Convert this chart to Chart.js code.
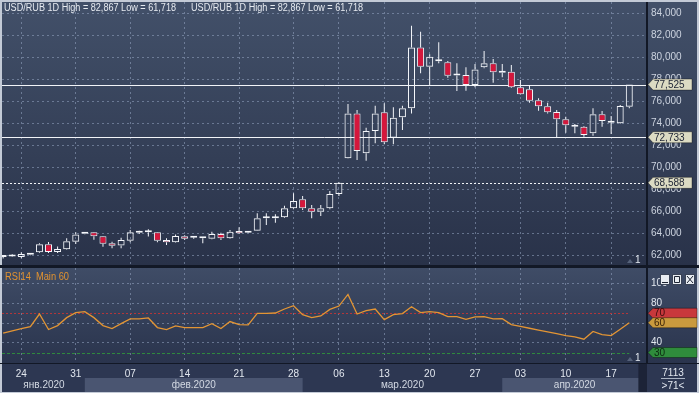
<!DOCTYPE html>
<html>
<head>
<meta charset="utf-8">
<script src="https://cdn.jsdelivr.net/npm/chart.js@4.4.1/dist/chart.umd.min.js"></script>
<style>
  html, body { margin: 0; padding: 0; }
  body { width: 699px; height: 393px; position: relative; overflow: hidden; background: #c3cad6; }
  .box { position: absolute; }
  #p1 { left: 2px; top: 2px; width: 695px; height: 263px; background: linear-gradient(#425069, #293249); }
  #s1 { left: 0; top: 265px; width: 699px; height: 3px; background: #121826; }
  #p2 { left: 2px; top: 268px; width: 695px; height: 95px; background: linear-gradient(#3f4c66, #2a344d); }
  #s2 { left: 0; top: 363px; width: 699px; height: 1px; background: #121826; }
  #p3 { left: 2px; top: 364px; width: 695px; height: 28px; background: #2d3752; }
  canvas { position: absolute; left: 0; }
</style>
</head>
<body>
<div class="box" id="p1"></div>
<div class="box" id="s1"></div>
<div class="box" id="p2"></div>
<div class="box" id="s2"></div>
<div class="box" id="p3"></div>
<canvas id="priceChart" width="699" height="266" style="top:0"></canvas>
<canvas id="rsiChart" width="699" height="127" style="top:266px"></canvas>
<script>
// Daily candles USD/RUB, 22 Jan - 21 Apr 2020
const dates = [
  "2020-01-22", "2020-01-23", "2020-01-24", "2020-01-26", "2020-01-27", "2020-01-28", "2020-01-29", "2020-01-30", "2020-01-31", "2020-02-02",
  "2020-02-03", "2020-02-04", "2020-02-05", "2020-02-06", "2020-02-07", "2020-02-09", "2020-02-10", "2020-02-11", "2020-02-12", "2020-02-13",
  "2020-02-14", "2020-02-16", "2020-02-17", "2020-02-18", "2020-02-19", "2020-02-20", "2020-02-21", "2020-02-23", "2020-02-24", "2020-02-25",
  "2020-02-26", "2020-02-27", "2020-02-28", "2020-03-02", "2020-03-03", "2020-03-04", "2020-03-05", "2020-03-06", "2020-03-09", "2020-03-10",
  "2020-03-11", "2020-03-12", "2020-03-13", "2020-03-16", "2020-03-17", "2020-03-18", "2020-03-19", "2020-03-20", "2020-03-23", "2020-03-24",
  "2020-03-25", "2020-03-26", "2020-03-27", "2020-03-30", "2020-03-31", "2020-04-01", "2020-04-02", "2020-04-03", "2020-04-06", "2020-04-07",
  "2020-04-08", "2020-04-09", "2020-04-10", "2020-04-13", "2020-04-14", "2020-04-15", "2020-04-16", "2020-04-17", "2020-04-20", "2020-04-21",
];
const opens = [
  61.85, 61.9, 61.85, 62.05, 62.27, 63.0, 62.3, 62.55, 63.24, 63.95,
  64.1, 63.73, 63.09, 62.9, 63.33, 64.05, 64.1, 64.09, 63.39, 63.18,
  63.73, 63.6, 63.55, 63.5, 63.94, 63.55, 64.21, 64.05, 64.24, 65.36,
  65.36, 65.45, 66.27, 67.09, 66.27, 65.96, 66.27, 67.57, 70.82, 74.9,
  71.27, 73.3, 75.0, 72.69, 74.55, 75.36, 80.9, 79.15, 79.65, 79.55,
  78.35, 78.39, 77.48, 79.09, 79.45, 78.7, 78.69, 77.27, 77.09, 76.09,
  75.55, 75.03, 74.36, 73.7, 73.69, 73.09, 74.82, 74.05, 74.0, 75.51,
];
const highs = [
  62.0, 62.1, 62.27, 62.2, 63.1, 63.2, 62.8, 63.55, 64.1, 64.0,
  64.12, 63.75, 63.24, 63.6, 64.3, 64.24, 64.36, 64.12, 63.55, 63.9,
  63.82, 63.7, 63.57, 64.15, 64.05, 64.3, 64.55, 64.1, 65.82, 65.82,
  65.73, 66.5, 67.64, 67.39, 66.57, 66.57, 67.85, 68.66, 75.75, 75.2,
  73.6, 75.6, 75.82, 75.45, 75.6, 82.867, 82.33, 80.27, 81.36, 79.66,
  79.45, 79.09, 79.39, 80.57, 79.85, 79.39, 79.3, 77.94, 77.48, 76.27,
  75.87, 75.2, 74.6, 73.94, 73.75, 75.36, 75.12, 74.66, 75.66, 77.525,
];
const lows = [
  61.718, 61.85, 61.73, 62.0, 62.2, 62.2, 62.2, 62.5, 63.03, 63.92,
  63.42, 62.78, 62.64, 62.64, 63.18, 63.94, 63.7, 63.18, 62.94, 63.15,
  63.39, 63.5, 63.09, 63.45, 63.4, 63.5, 63.94, 64.03, 64.2, 64.75,
  64.96, 65.4, 66.18, 66.12, 65.36, 65.57, 66.18, 67.39, 70.8, 70.66,
  70.6, 72.18, 72.09, 72.09, 73.39, 74.9, 78.55, 77.48, 79.45, 78.15,
  76.94, 76.97, 77.27, 79.0, 77.69, 78.18, 77.2, 76.6, 75.87, 75.15,
  74.9, 72.733, 73.15, 73.09, 72.78, 72.87, 73.69, 73.03, 73.95, 75.36,
];
const closes = [
  61.95, 62.0, 62.12, 62.15, 63.0, 62.3, 62.57, 63.27, 63.9, 64.0,
  63.73, 63.05, 62.87, 63.4, 64.09, 64.1, 64.12, 63.33, 63.18, 63.75,
  63.51, 63.62, 63.57, 63.94, 63.55, 64.15, 64.0, 64.08, 65.36, 65.4,
  65.45, 66.27, 66.94, 66.27, 65.96, 66.27, 67.57, 68.588, 74.9, 71.48,
  73.3, 74.9, 72.27, 74.51, 75.36, 80.9, 79.15, 80.05, 79.75, 78.33,
  78.4, 77.48, 78.9, 79.45, 78.64, 78.6, 77.27, 76.64, 76.05, 75.55,
  75.0, 74.36, 73.82, 73.68, 72.94, 74.82, 74.21, 74.12, 75.57, 77.525,
];
const rsi = [
  49.7, 52, 54.4, 56.4, 69.2, 53.4, 57.4, 65.5, 70.6, 71.6,
  65.5, 57.4, 54.4, 59.4, 64.2, 64.2, 65.2, 55.4, 53.4, 57.1,
  55.4, 55.4, 55.4, 59.4, 54.4, 61.5, 58.4, 58.1, 69.9, 69.9,
  70.2, 74.3, 77.6, 68.5, 65.5, 67.2, 73.9, 77.3, 89.1, 69.2,
  72.6, 74.3, 63.5, 68.5, 69.6, 76.6, 70.6, 71.6, 70.6, 66.6,
  66.6, 63.8, 66.2, 66.6, 64.2, 64.5, 58.4, 56.6, 54.7, 52.9,
  51.0, 49.2, 47.3, 45.9, 43.6, 51.4, 48.3, 47.3, 53.7, 60.3,
];
const priceTicks = [62, 64, 66, 68, 70, 72, 74, 76, 78, 80, 82, 84];
const rsiTicks = [40, 60, 80, 100];
const monthNames = ["янв.2020", "фев.2020", "мар.2020", "апр.2020"];
const priceLines = [77.525, 72.733];
const prevClose = 68.588;
const rsiLevels = [70, 30];

const FONT = '"Liberation Sans", Arial, sans-serif';
const GRID = "rgba(150, 165, 195, 0.55)";
const idx = dates.map((d, i) => i);
const fridays = idx.filter((i) => new Date(dates[i] + "T12:00:00").getDay() === 5);
const fmt3 = (v) => v.toFixed(3).replace(".", ",");

const bodies = idx.map((i) => ({ x: i, y: [opens[i], closes[i]] }));
const upperWicks = idx.map((i) => ({ x: i, y: [Math.max(opens[i], closes[i]), highs[i]] }));
const lowerWicks = idx.map((i) => ({ x: i, y: [lows[i], Math.min(opens[i], closes[i])] }));
const bodyFill = idx.map((i) => (closes[i] >= opens[i] ? "rgba(0,0,0,0)" : "#d5173c"));

// month start indices for the bottom band row
const monthStarts = idx.filter((i) => i === 0 || dates[i].slice(5, 7) !== dates[i - 1].slice(5, 7));

// keep tick labels from pushing the plot area inwards
function noPad(scale) {
  scale.paddingTop = 0;
  scale.paddingBottom = 0;
  scale.paddingLeft = 0;
  scale.paddingRight = 0;
}

const xOpts = {
  type: "linear",
  min: -0.127,
  max: 70.95,
  offset: false,
  afterBuildTicks: (axis) => {
    axis.ticks = fridays.map((v) => ({ value: v }));
  },
  grid: { color: GRID, drawTicks: false, offset: false },
  border: { display: false, dash: [2, 3] },
};

function drawTag(ctx, x, y, w, h, text, fill, textColor) {
  ctx.save();
  ctx.beginPath();
  ctx.moveTo(x, y);
  ctx.lineTo(x + 5, y - h / 2);
  ctx.lineTo(x + w, y - h / 2);
  ctx.lineTo(x + w, y + h / 2);
  ctx.lineTo(x + 5, y + h / 2);
  ctx.closePath();
  ctx.fillStyle = fill;
  ctx.fill();
  ctx.strokeStyle = "rgba(0, 0, 0, 0.35)";
  ctx.lineWidth = 1;
  ctx.stroke();
  ctx.fillStyle = textColor;
  ctx.font = "10px " + FONT;
  ctx.textAlign = "left";
  ctx.textBaseline = "middle";
  ctx.fillText(text, x + 6, y + 0.5);
  ctx.restore();
}

function drawCornerOne(ctx, a) {
  ctx.save();
  ctx.fillStyle = "#56627a";
  ctx.beginPath();
  ctx.moveTo(a.right - 20, a.bottom - 2);
  ctx.lineTo(a.right - 17, a.bottom - 6);
  ctx.lineTo(a.right - 14, a.bottom - 2);
  ctx.fill();
  ctx.fillStyle = "#e2e7ef";
  ctx.font = "10px " + FONT;
  ctx.textAlign = "left";
  ctx.textBaseline = "bottom";
  ctx.fillText("1", a.right - 12, a.bottom);
  ctx.restore();
}

// Price panel: level lines, axis tags, header
const priceDeco = {
  id: "priceDeco",
  beforeDatasetsDraw(chart) {
    const { ctx, chartArea: a, scales: { y } } = chart;
    ctx.save();
    ctx.strokeStyle = "#f2f4f8";
    ctx.lineWidth = 1;
    priceLines.forEach((v) => {
      const py = Math.round(y.getPixelForValue(v)) + 0.5;
      ctx.beginPath();
      ctx.moveTo(a.left, py);
      ctx.lineTo(a.right, py);
      ctx.stroke();
    });
    ctx.setLineDash([2, 2]);
    const py = Math.round(y.getPixelForValue(prevClose)) + 0.5;
    ctx.beginPath();
    ctx.moveTo(a.left, py);
    ctx.lineTo(a.right, py);
    ctx.stroke();
    ctx.restore();
  },
  afterDraw(chart) {
    const { ctx, chartArea: a, scales: { y } } = chart;
    ctx.save();
    ctx.fillStyle = "#121826";
    ctx.fillRect(a.right - 1, a.top, 2, a.bottom - a.top);
    ctx.restore();

    [...priceLines, prevClose].forEach((v) => {
      drawTag(ctx, a.right + 1, y.getPixelForValue(v), 44, 11, fmt3(v), "#dcdbc3", "#1c2233");
    });

    const header = "USD/RUB 1D High = " + fmt3(Math.max(...highs)) + " Low = " + fmt3(Math.min(...lows));
    ctx.save();
    ctx.fillStyle = "#e6eaf0";
    ctx.font = "10px " + FONT;
    ctx.textBaseline = "middle";
    ctx.fillText(header, 4, 8, 172);
    ctx.fillText(header, 191, 8, 172);
    ctx.restore();

    drawCornerOne(ctx, a);
  },
};

new Chart(document.getElementById("priceChart"), {
  type: "bar",
  data: {
    datasets: [
      {
        data: bodies,
        backgroundColor: bodyFill,
        borderColor: "#f4f6fa",
        borderWidth: 1,
        borderSkipped: false,
        barThickness: 7,
        minBarLength: 2,
        grouped: false,
        inflateAmount: 0,
      },
      {
        data: upperWicks,
        backgroundColor: "#f4f6fa",
        borderWidth: 0,
        barThickness: 1,
        grouped: false,
        inflateAmount: 0,
      },
      {
        data: lowerWicks,
        backgroundColor: "#f4f6fa",
        borderWidth: 0,
        barThickness: 1,
        grouped: false,
        inflateAmount: 0,
      },
    ],
  },
  options: {
    responsive: false,
    animation: false,
    devicePixelRatio: 1,
    layout: { padding: { left: 2, right: 2, top: 2, bottom: 1 } },
    plugins: { legend: { display: false }, tooltip: { enabled: false } },
    scales: {
      x: {
        ...xOpts,
        ticks: { display: false },
        afterFit: (scale) => {
          scale.height = 0;
          noPad(scale);
        },
      },
      y: {
        position: "right",
        min: 61.118,
        max: 85.03,
        afterBuildTicks: (axis) => {
          axis.ticks = priceTicks.map((v) => ({ value: v }));
        },
        afterFit: (scale) => {
          scale.width = 50;
          noPad(scale);
        },
        grid: { color: GRID, drawTicks: false },
        border: { display: false, dash: [2, 3] },
        ticks: {
          color: "#ccd3df",
          padding: 4,
          autoSkip: false,
          font: { family: FONT, size: 10 },
          callback: (v) => fmt3(v),
        },
      },
    },
  },
  plugins: [priceDeco],
});

// RSI panel: level lines, tags, window buttons, date rows
const rsiDeco = {
  id: "rsiDeco",
  beforeDatasetsDraw(chart) {
    const { ctx, chartArea: a, scales: { x, y } } = chart;
    const xEnd = x.getPixelForValue(dates.length - 1);
    ctx.save();
    ctx.lineWidth = 1;
    ctx.strokeStyle = "#b3363a";
    ctx.setLineDash([2, 2]);
    let py = Math.round(y.getPixelForValue(rsiLevels[0])) + 0.5;
    ctx.beginPath();
    ctx.moveTo(a.left, py);
    ctx.lineTo(xEnd, py);
    ctx.stroke();
    ctx.strokeStyle = "#2f8a3e";
    ctx.setLineDash([3, 2]);
    py = Math.round(y.getPixelForValue(rsiLevels[1])) + 0.5;
    ctx.beginPath();
    ctx.moveTo(a.left, py);
    ctx.lineTo(xEnd, py);
    ctx.stroke();
    ctx.restore();
  },
  afterDraw(chart) {
    const { ctx, chartArea: a, scales: { x, y } } = chart;
    const last = rsi[rsi.length - 1];

    ctx.save();
    ctx.fillStyle = "#121826";
    ctx.fillRect(a.right - 1, a.top, 2, a.bottom - a.top);
    ctx.restore();

    drawTag(ctx, a.right + 1, y.getPixelForValue(rsiLevels[0]), 49, 10, String(rsiLevels[0]), "#c8383c", "#3a0c0c");
    drawTag(ctx, a.right + 1, y.getPixelForValue(last), 49, 10, String(Math.round(last)), "#c99a3e", "#3a2208");
    drawTag(ctx, a.right + 1, y.getPixelForValue(rsiLevels[1]), 49, 10, String(rsiLevels[1]), "#2f8c3c", "#0c2a10");

    // legend text
    ctx.save();
    ctx.fillStyle = "#e3932f";
    ctx.font = "10px " + FONT;
    ctx.textBaseline = "middle";
    ctx.fillText("RSI14  Main " + Math.round(last), 5, a.top + 9, 64);
    ctx.restore();

    // window buttons
    ctx.save();
    [660, 672, 685].forEach((bx, i) => {
      const by = a.top + 6;
      ctx.fillStyle = "#e8ecf1";
      ctx.fillRect(bx, by, 10, 11);
      ctx.strokeStyle = "#3a4356";
      ctx.lineWidth = 1;
      ctx.strokeRect(bx + 0.5, by + 0.5, 9, 10);
      ctx.strokeStyle = "#1d2433";
      ctx.beginPath();
      if (i === 0) {
        ctx.moveTo(bx + 2, by + 8.5);
        ctx.lineTo(bx + 8, by + 8.5);
      } else if (i === 1) {
        ctx.rect(bx + 2.5, by + 2.5, 5, 6);
      } else {
        ctx.moveTo(bx + 2, by + 2);
        ctx.lineTo(bx + 8, by + 9);
        ctx.moveTo(bx + 8, by + 2);
        ctx.lineTo(bx + 2, by + 9);
      }
      ctx.stroke();
    });
    ctx.restore();

    drawCornerOne(ctx, a);

    // month band row
    const rowTop = a.bottom + 15;
    const rowBottom = chart.height - 1;
    ctx.save();
    ctx.font = "10px " + FONT;
    ctx.textAlign = "center";
    ctx.textBaseline = "middle";
    monthStarts.forEach((s, m) => {
      const x0 = Math.max(a.left, x.getPixelForValue(s));
      const x1 = m + 1 < monthStarts.length ? x.getPixelForValue(monthStarts[m + 1]) : a.right;
      if (m % 2 === 1) {
        ctx.fillStyle = "#4a5571";
        ctx.fillRect(x0, rowTop, x1 - x0, rowBottom - rowTop);
      }
      ctx.fillStyle = "#d3d9e3";
      ctx.fillText(monthNames[m], (x0 + x1) / 2, (rowTop + rowBottom) / 2 + 0.5);
    });
    ctx.fillStyle = "#1c2337";
    ctx.fillRect(x.getPixelForValue(dates.length), a.bottom + 1, a.right - x.getPixelForValue(dates.length), rowBottom - a.bottom - 1);

    // corner counter box
    const cx = a.right + 26;
    ctx.fillStyle = "#e2e7ef";
    ctx.fillText("7113", cx, a.bottom + 10);
    ctx.fillText(">71<", cx, a.bottom + 23);
    ctx.strokeStyle = "#aab3c3";
    ctx.beginPath();
    ctx.moveTo(cx - 12, a.bottom + 15.5);
    ctx.lineTo(cx + 12, a.bottom + 15.5);
    ctx.stroke();
    ctx.restore();
  },
};

new Chart(document.getElementById("rsiChart"), {
  type: "line",
  data: {
    datasets: [
      {
        data: idx.map((i) => ({ x: i, y: rsi[i] })),
        borderColor: "#e39534",
        borderWidth: 1.3,
        pointRadius: 0,
        tension: 0,
      },
    ],
  },
  options: {
    responsive: false,
    animation: false,
    devicePixelRatio: 1,
    layout: { padding: { left: 2, right: 2, top: 2, bottom: 0 } },
    plugins: { legend: { display: false }, tooltip: { enabled: false } },
    scales: {
      x: {
        ...xOpts,
        afterFit: (scale) => {
          scale.height = 30;
          noPad(scale);
        },
        ticks: {
          color: "#e2e7ef",
          padding: 5,
          autoSkip: false,
          maxRotation: 0,
          font: { family: FONT, size: 10 },
          callback: (v) => (dates[v] ? dates[v].slice(8, 10) : ""),
        },
      },
      y: {
        position: "right",
        min: 19.35,
        max: 116,
        afterBuildTicks: (axis) => {
          axis.ticks = rsiTicks.map((v) => ({ value: v }));
        },
        afterFit: (scale) => {
          scale.width = 50;
          noPad(scale);
        },
        grid: { color: GRID, drawTicks: false },
        border: { display: false, dash: [2, 3] },
        ticks: {
          color: "#e2e7ef",
          padding: 4,
          autoSkip: false,
          font: { family: FONT, size: 10 },
        },
      },
    },
  },
  plugins: [rsiDeco],
});
</script>
</body>
</html>
